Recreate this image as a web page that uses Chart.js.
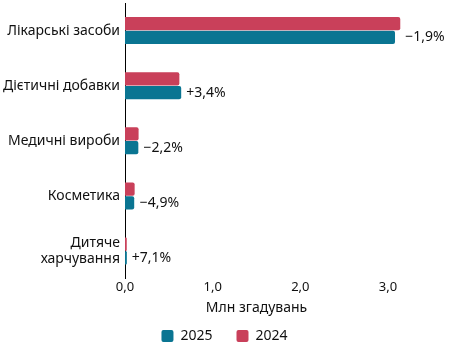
<!DOCTYPE html>
<html>
<head>
<meta charset="utf-8">
<script src="https://cdn.jsdelivr.net/npm/chart.js@4"></script>
<style>
  html, body { margin: 0; padding: 0; background: #fff; }
  #wrap { width: 449px; height: 348px; }
</style>
</head>
<body>
<div id="wrap"><canvas id="chart"></canvas></div>
<script>
// дані
const categories = ['Лікарські засоби', 'Дієтичні добавки', 'Медичні вироби', 'Косметика', ['Дитяче', 'харчування']];
const values2024 = [3.14, 0.62, 0.155, 0.11, 0.02];
const values2025 = [3.08, 0.641, 0.152, 0.105, 0.021];
const changes = ['−1,9%', '+3,4%', '−2,2%', '−4,9%', '+7,1%'];
const xTicks = [0, 1, 2, 3];

const FONT = '"Noto Sans", sans-serif';
const RED = '#c9405a';
const TEAL = '#0a7592';

// підписи зміни справа від пари стовпчиків
const changeLabels = {
  id: 'changeLabels',
  afterDatasetsDraw(chart) {
    const ctx = chart.ctx;
    const m24 = chart.getDatasetMeta(0);
    const m25 = chart.getDatasetMeta(1);
    ctx.save();
    ctx.font = '14px ' + FONT;
    ctx.fillStyle = '#111';
    ctx.textAlign = 'left';
    ctx.textBaseline = 'middle';
    changes.forEach((txt, i) => {
      const x = Math.max(m24.data[i].x, m25.data[i].x) + 5;
      ctx.fillText(txt, x, m25.data[i].y);
    });
    ctx.restore();
  }
};

new Chart(document.getElementById('chart'), {
  type: 'bar',
  data: {
    labels: categories,
    datasets: [
      { label: '2024', data: values2024, backgroundColor: RED, borderRadius: 2, clip: false },
      { label: '2025', data: values2025, backgroundColor: TEAL, borderRadius: 2, clip: false }
    ]
  },
  options: {
    indexAxis: 'y',
    responsive: true,
    maintainAspectRatio: false,
    animation: false,
    layout: { padding: { top: 3, right: 0, left: 0, bottom: -5 } },
    categoryPercentage: 0.5,
    barPercentage: 0.96,
    plugins: {
      legend: {
        position: 'bottom',
        reverse: true,
        labels: {
          boxWidth: 12,
          boxHeight: 12,
          useBorderRadius: true,
          borderRadius: 2,
          padding: 10,
          color: '#111',
          font: { family: FONT, size: 14 },
          generateLabels: chart => {
            const items = Chart.defaults.plugins.legend.labels.generateLabels(chart);
            items.forEach(it => { if (it.text === '2025') it.text = '2025\u2003'; });
            return items;
          }
        }
      },
      tooltip: { enabled: false }
    },
    scales: {
      x: {
        min: 0,
        max: 3,
        afterBuildTicks: s => { s.ticks = xTicks.map(v => ({ value: v })); },
        grid: { display: false, drawTicks: false },
        border: { display: false },
        ticks: {
          color: '#111',
          padding: 1,
          font: { family: FONT, size: 13 },
          callback: v => v.toFixed(1).replace('.', ',')
        },
        title: {
          display: true,
          text: 'Млн згадувань',
          color: '#111',
          padding: { top: 3, bottom: 3 },
          font: { family: FONT, size: 14 }
        }
      },
      y: {
        afterFit: s => { s.width = 125; s.paddingTop = 0; s.paddingBottom = 0; },
        grid: { drawOnChartArea: false, drawTicks: false },
        border: { display: true, color: '#000', width: 1 },
        ticks: {
          color: '#111',
          padding: 5,
          font: { family: FONT, size: 14 }
        }
      },
      // порожня вісь справа лишає місце для підписів зміни
      yRight: {
        type: 'category',
        position: 'right',
        display: true,
        afterFit: s => { s.width = 61; s.paddingTop = 0; s.paddingBottom = 0; },
        grid: { display: false, drawTicks: false },
        border: { display: false },
        ticks: { display: false }
      }
    }
  },
  plugins: [changeLabels]
});
</script>
</body>
</html>
